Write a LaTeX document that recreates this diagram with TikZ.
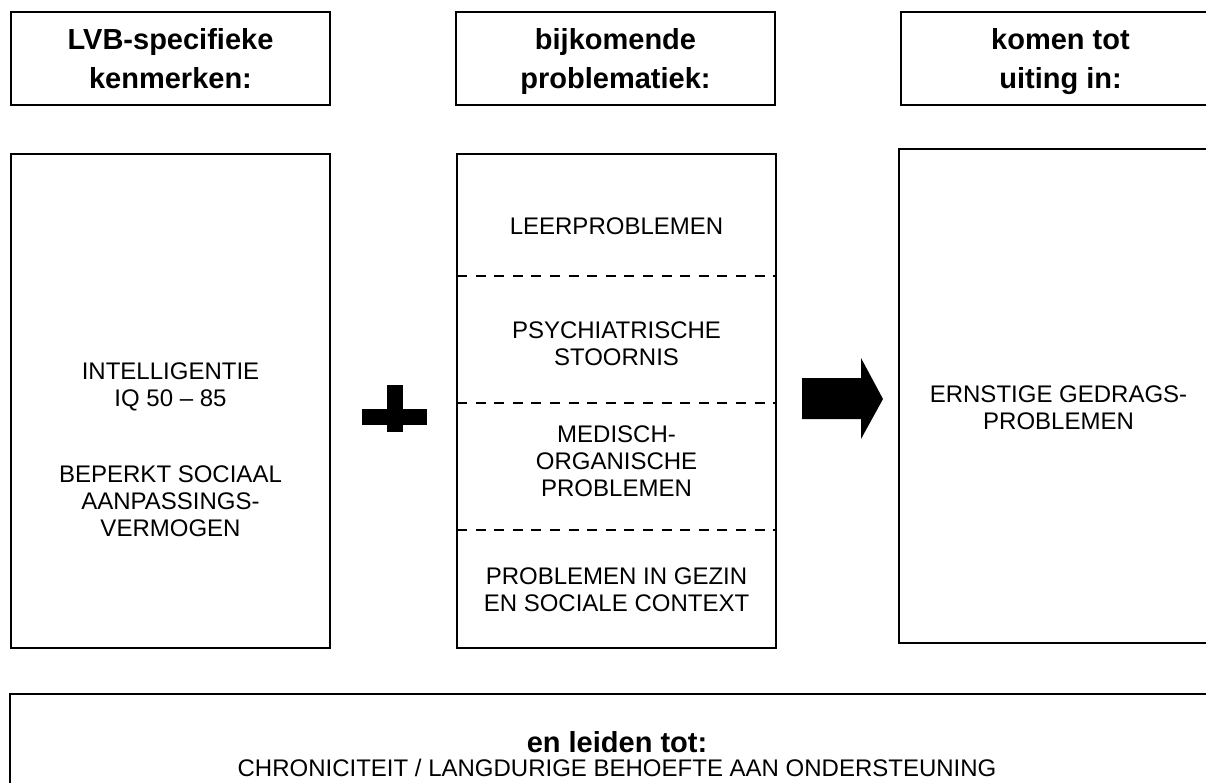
\documentclass[tikz,border=0pt]{standalone}
\usepackage{fontspec}
\setmainfont{Liberation Sans}
\usepackage{tikz}

\begin{document}
\begin{tikzpicture}[x=1pt,y=-1pt,
    kop/.style={draw,line width=1.5pt,minimum width=319pt,minimum height=93pt,inner sep=0pt},
    koptekst/.style={font=\fontsize{29}{39}\selectfont\bfseries,align=center,inner sep=0pt},
    blok/.style={draw,line width=1.5pt,minimum width=319pt,minimum height=494pt,inner sep=0pt},
    tekst/.style={font=\fontsize{24}{27}\selectfont,align=center,inner sep=0pt},
    streep/.style={line width=1.5pt,dash pattern=on 10pt off 8.6pt}]
    \useasboundingbox (0,0) rectangle (1206,783);
    \clip (0,0) rectangle (1206,783);

    % koppen
    \node[kop] (kopL) at (170.5,58.5) {};
    \node[kop] (kopM) at (615.5,58.5) {};
    \node[kop] (kopR) at (1060.5,58.5) {};
    \node[koptekst] (kenmerken) at (170.5,61.5) {\strut LVB-specifieke\\\strut kenmerken:};
    \node[koptekst] (problematiek) at (615.5,61.5) {\strut bijkomende\\\strut problematiek:};
    \node[koptekst] (uiting) at (1060.5,61.5) {\strut komen tot\\\strut uiting in:};

    % blokken
    \node[blok] (blokL) at (170.5,401) {};
    \node[blok] (blokM) at (616.5,401) {};
    \node[blok] (blokR) at (1058.5,396) {};
    \foreach \y in {276,403,530}
        \draw[streep] (457,\y) -- (776,\y);

    \node[tekst] (iq) at (170.5,387) {INTELLIGENTIE\\IQ 50 -- 85};
    \node[tekst] (sociaal) at (170.5,501) {BEPERKT SOCIAAL\\AANPASSINGS-\\VERMOGEN};

    \node[tekst] (leer) at (616.5,226) {LEERPROBLEMEN};
    \node[tekst] (psych) at (616.5,344) {PSYCHIATRISCHE\\STOORNIS};
    \node[tekst] (medisch) at (616.5,461) {MEDISCH-\\ORGANISCHE\\PROBLEMEN};
    \node[tekst] (gezin) at (616.5,590) {PROBLEMEN IN GEZIN\\EN SOCIALE CONTEXT};

    \node[tekst] (gedrag) at (1058.5,408) {ERNSTIGE GEDRAGS-\\PROBLEMEN};

    % plus en pijl
    \fill (387,385) rectangle (403,432);
    \fill (362,409) rectangle (427,425);
    \fill (802,378) -- (861,378) -- (861,358) -- (883,399) -- (861,439)
        -- (861,419) -- (802,419) -- cycle;

    % onderaan
    \node[draw,line width=1.5pt,minimum width=1214pt,minimum height=122pt] (onder) at (617,755) {};
    \node[koptekst,anchor=base] (leiden) at (617,752) {en leiden tot:};
    \node[tekst,anchor=base] (chron) at (617,776) {CHRONICITEIT / LANGDURIGE BEHOEFTE AAN ONDERSTEUNING};
\end{tikzpicture}
\end{document}
